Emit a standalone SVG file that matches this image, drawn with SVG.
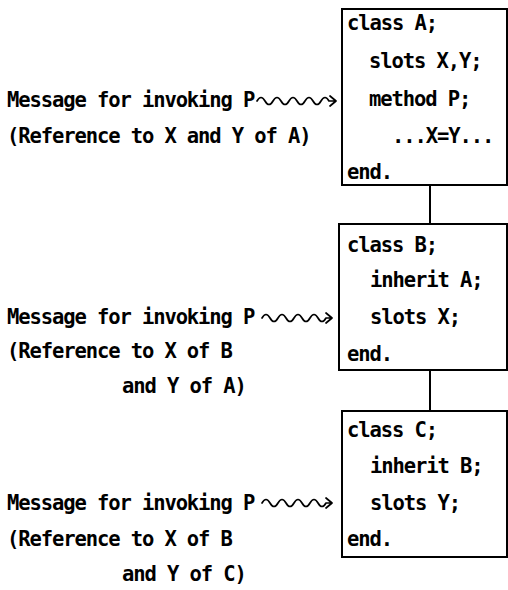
<svg xmlns="http://www.w3.org/2000/svg" width="508" height="590" viewBox="0 0 508 590">
<style>
text{font-family:"DejaVu Sans Mono","Liberation Mono",monospace;font-weight:bold;font-size:20.5px;letter-spacing:-1.1px;fill:#000}
.box{fill:#fff;stroke:#000;stroke-width:2}
.conn{stroke:#000;stroke-width:2;fill:none}
.wave{stroke:#000;stroke-width:1.7;fill:none;stroke-linejoin:round;stroke-linecap:round}
</style>
<rect width="508" height="590" fill="#fff"/>
<g id="connectors">
<line class="conn" x1="430" y1="185" x2="430" y2="224"/>
<line class="conn" x1="430" y1="370" x2="430" y2="411"/>
<path class="wave" d="M257,101 q4,-7 8,0 t8,0 t8,0 t8,0 t8,0 t8,0 t8,0 t8,0 t8,0 l7,0 M330,96 l6,5 l-6,5"/>
<path class="wave" d="M262,318 q4,-7 8,0 t8,0 t8,0 t8,0 t8,0 t8,0 t8,0 t8,0 l6,0 M326,313 l6,5 l-6,5"/>
<path class="wave" d="M262,503 q4,-7 8,0 t8,0 t8,0 t8,0 t8,0 t8,0 t8,0 t8,0 l6,0 M326,498 l6,5 l-6,5"/>
</g>
<g id="classA">
<rect class="box" x="342" y="9" width="165" height="176"/>
<text x="347" y="30">class A;</text>
<text x="369" y="68">slots X,Y;</text>
<text x="369" y="106">method P;</text>
<text x="392" y="143">...X=Y...</text>
<text x="347" y="179">end.</text>
</g>
<g id="classB">
<rect class="box" x="339" y="224" width="168" height="146"/>
<text x="347" y="252">class B;</text>
<text x="370" y="287">inherit A;</text>
<text x="370" y="324">slots X;</text>
<text x="347" y="361">end.</text>
</g>
<g id="classC">
<rect class="box" x="342" y="411" width="165" height="146"/>
<text x="347" y="437">class C;</text>
<text x="370" y="473">inherit B;</text>
<text x="370" y="510">slots Y;</text>
<text x="347" y="546">end.</text>
</g>
<g id="msg1">
<text x="7" y="107">Message for invoking P</text>
<text x="7" y="143">(Reference to X and Y of A)</text>
</g>
<g id="msg2">
<text x="7" y="324">Message for invoking P</text>
<text x="7" y="358">(Reference to X of B</text>
<text x="122" y="393">and Y of A)</text>
</g>
<g id="msg3">
<text x="7" y="510">Message for invoking P</text>
<text x="7" y="546">(Reference to X of B</text>
<text x="122" y="581">and Y of C)</text>
</g>
</svg>
